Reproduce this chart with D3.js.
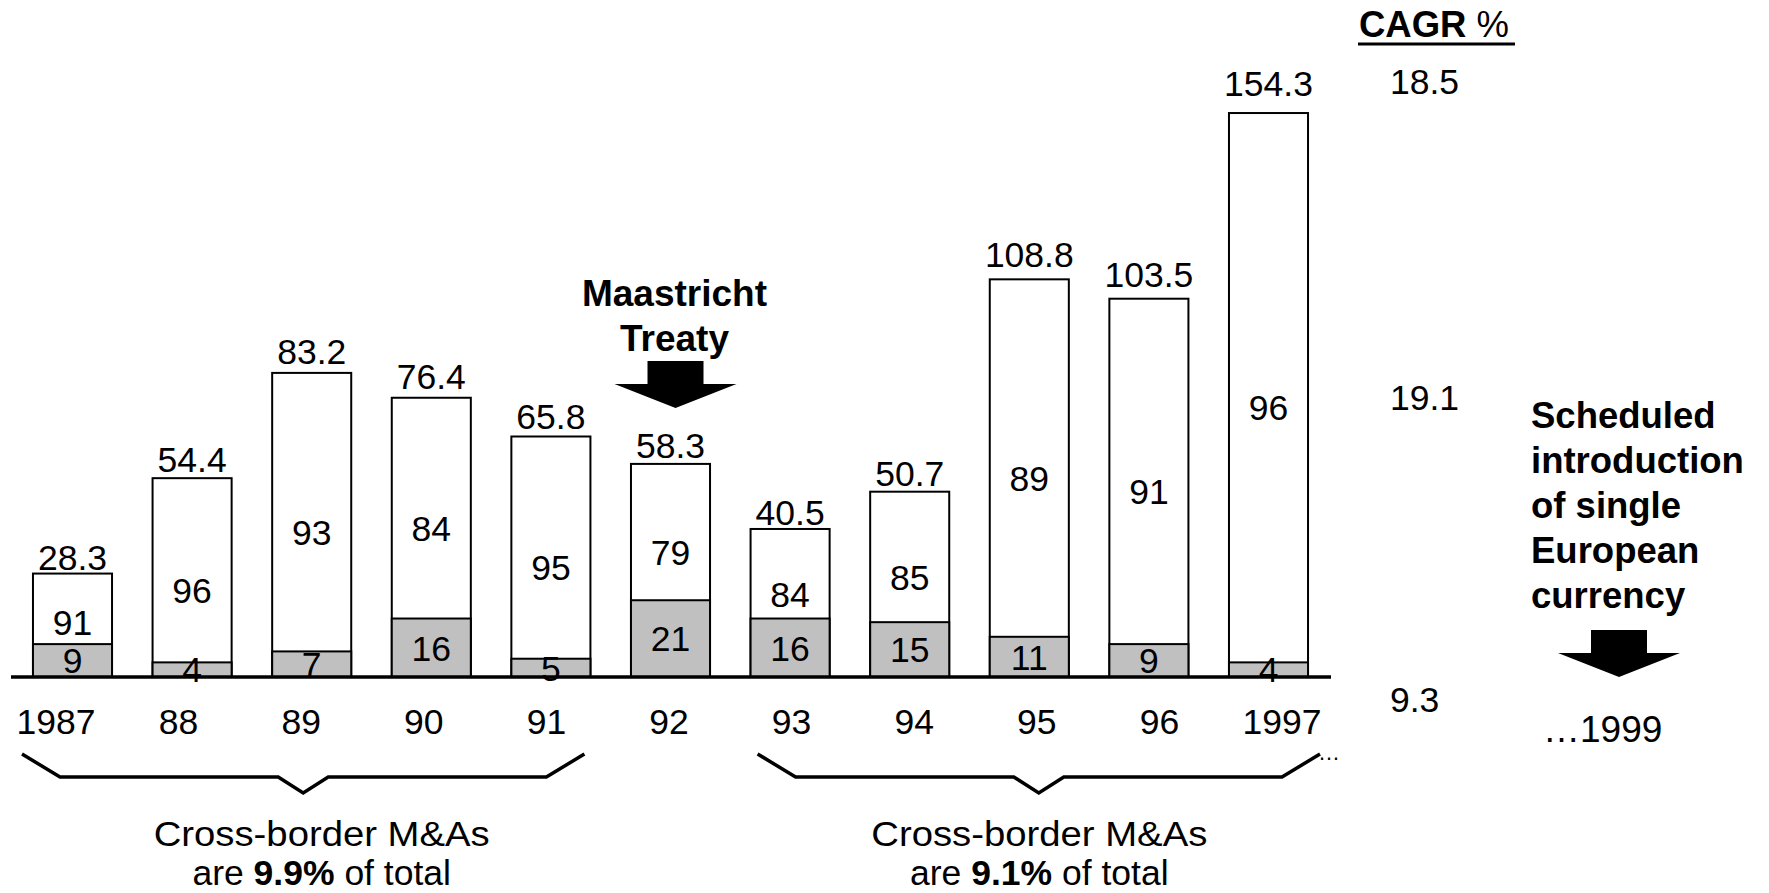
<!DOCTYPE html>
<html>
<head>
<meta charset="utf-8">
<script src="https://cdn.jsdelivr.net/npm/d3@7"></script>
<style>
  html, body { margin: 0; padding: 0; background: #fff; }
  svg { display: block; }
  text { font-family: "Liberation Sans", Arial, sans-serif; fill: #000; }
</style>
</head>
<body>
<svg id="chart" width="1769" height="893"></svg>
<script>
// ---- data ----
const years = ["1987", "88", "89", "90", "91", "92", "93", "94", "95", "96", "1997"];
const totals = [28.3, 54.4, 83.2, 76.4, 65.8, 58.3, 40.5, 50.7, 108.8, 103.5, 154.3];
const crossBorderShare = [9, 4, 7, 16, 5, 21, 16, 15, 11, 9, 4];
const domesticShare = [91, 96, 93, 84, 95, 79, 84, 85, 89, 91, 96];
const cagrHeader = "CAGR";
const cagrValues = ["18.5", "19.1", "9.3"];
const periodNotes = [
  { from: "1987", to: "91", centre: "89", line1: "Cross-border M&As", pre: "are ", bold: "9.9%", post: " of total" },
  { from: "93", to: "1997", centre: "95", line1: "Cross-border M&As", pre: "are ", bold: "9.1%", post: " of total" }
];
const eventNotes = {
  maastricht: ["Maastricht", "Treaty"],
  currency: ["Scheduled", "introduction", "of single", "European", "currency"],
  currencyYear: "\u20261999"
};

const rows = years.map((y, i) => ({
  year: y, total: totals[i], cross: crossBorderShare[i], dom: domesticShare[i]
}));

// ---- layout ----
const svg = d3.select("#chart");
const baseY = 677;
const x = d3.scaleBand().domain(years).range([12.7, 1328.3]).paddingInner(0.339).paddingOuter(0.1695);
const xLabel = d3.scalePoint().domain(years).range([56, 1282]);
const y = d3.scaleLinear().domain([0, 160]).range([baseY, baseY - 160 * 3.655]);
const cx = d => x(d) + x.bandwidth() / 2;

const numFont = 35.5;
const boldFont = 36.5;
const noteFont = 35.5;

// bars: white total
const g = svg.append("g");
g.selectAll("rect.total").data(rows).join("rect")
  .attr("class", "total")
  .attr("x", d => x(d.year))
  .attr("y", d => y(d.total))
  .attr("width", x.bandwidth())
  .attr("height", d => y(0) - y(d.total))
  .attr("fill", "#fff").attr("stroke", "#000").attr("stroke-width", 2);

// grey cross-border segment
g.selectAll("rect.cross").data(rows).join("rect")
  .attr("class", "cross")
  .attr("x", d => x(d.year))
  .attr("y", d => y(d.cross))
  .attr("width", x.bandwidth())
  .attr("height", d => y(0) - y(d.cross))
  .attr("fill", "#c0c0c0").attr("stroke", "#000").attr("stroke-width", 2);

// axis line
svg.append("line")
  .attr("x1", 11).attr("x2", 1331)
  .attr("y1", y(0)).attr("y2", y(0))
  .attr("stroke", "#000").attr("stroke-width", 3.5);

// total labels
g.selectAll("text.total").data(rows).join("text")
  .attr("class", "total")
  .attr("x", d => cx(d.year))
  .attr("y", d => y(d.total * 1.03))
  .attr("text-anchor", "middle")
  .attr("font-size", numFont)
  .text(d => d.total.toFixed(1));

// domestic share labels
g.selectAll("text.dom").data(rows).join("text")
  .attr("class", "dom")
  .attr("x", d => cx(d.year))
  .attr("y", d => {
    const top = y(d.total), bot = y(d.cross);
    return (top + bot) / 2 + Math.min(20, (bot - top) / 2 - 22);
  })
  .attr("dy", "0.36em")
  .attr("text-anchor", "middle")
  .attr("font-size", numFont)
  .text(d => d.dom);

// cross-border share labels
g.selectAll("text.cross").data(rows).join("text")
  .attr("class", "cross")
  .attr("x", d => cx(d.year))
  .attr("y", d => (y(0) + y(d.cross)) / 2)
  .attr("dy", "0.36em")
  .attr("text-anchor", "middle")
  .attr("font-size", numFont)
  .text(d => d.cross);

// year labels
svg.selectAll("text.year").data(years).join("text")
  .attr("class", "year")
  .attr("x", d => xLabel(d))
  .attr("y", 734)
  .attr("text-anchor", "middle")
  .attr("font-size", numFont)
  .text(d => d);

// braces & notes
periodNotes.forEach(p => {
  const x0 = xLabel(p.from) - 34;
  const x1 = xLabel(p.to) + 38;
  const mid = (x0 + x1) / 2;
  const path = d3.path();
  path.moveTo(x0, 754);
  path.lineTo(x0 + 38, 777);
  path.lineTo(mid - 25, 777);
  path.lineTo(mid, 793);
  path.lineTo(mid + 25, 777);
  path.lineTo(x1 - 38, 777);
  path.lineTo(x1, 754);
  svg.append("path").attr("d", path.toString())
    .attr("fill", "none").attr("stroke", "#000").attr("stroke-width", 3.5)
    .attr("stroke-linejoin", "miter");
  const tx = cx(p.centre) + 10;
  svg.append("text").attr("x", tx).attr("y", 846)
    .attr("text-anchor", "middle").attr("font-size", noteFont)
    .attr("textLength", 336).attr("lengthAdjust", "spacingAndGlyphs")
    .text(p.line1);
  const t2 = svg.append("text").attr("x", tx).attr("y", 885)
    .attr("text-anchor", "middle").attr("font-size", noteFont);
  t2.append("tspan").text(p.pre);
  t2.append("tspan").attr("font-weight", "bold").text(p.bold);
  t2.append("tspan").text(p.post);
});

// small ellipsis fragment after 1997 brace
svg.append("text").attr("x", 1318).attr("y", 760)
  .attr("font-size", 22).text("\u2026");

// CAGR column
const cagrT = svg.append("text").attr("x", 1359).attr("y", 37).attr("font-size", 36.5);
cagrT.append("tspan").attr("font-weight", "bold").text(cagrHeader);
cagrT.append("tspan").text(" %");
svg.append("line").attr("x1", 1358).attr("x2", 1515).attr("y1", 44).attr("y2", 44)
  .attr("stroke", "#000").attr("stroke-width", 3);
const cagrY = [94, 410, 712];
svg.selectAll("text.cagr").data(cagrValues).join("text")
  .attr("class", "cagr")
  .attr("x", 1390)
  .attr("y", (d, i) => cagrY[i])
  .attr("font-size", numFont)
  .text(d => d);

// Maastricht annotation
const mx = cx("92") + 4;
eventNotes.maastricht.forEach((t, i) => {
  svg.append("text").attr("x", mx).attr("y", 306 + i * 45)
    .attr("text-anchor", "middle").attr("font-size", 37)
    .attr("font-weight", "bold").text(t);
});
function downArrow(ax, top) {
  const p = d3.path();
  p.moveTo(ax - 28, top);
  p.lineTo(ax + 28, top);
  p.lineTo(ax + 28, top + 23);
  p.lineTo(ax + 61, top + 23);
  p.lineTo(ax, top + 47);
  p.lineTo(ax - 61, top + 23);
  p.lineTo(ax - 28, top + 23);
  p.closePath();
  svg.append("path").attr("d", p.toString()).attr("fill", "#000");
}
downArrow(mx + 1, 361);

// Single currency annotation
eventNotes.currency.forEach((t, i) => {
  svg.append("text").attr("x", 1531).attr("y", 428 + i * 45)
    .attr("font-size", boldFont).attr("font-weight", "bold").text(t);
});
downArrow(1619, 630);
svg.append("text").attr("x", 1543).attr("y", 742)
  .attr("font-size", 37).text(eventNotes.currencyYear);
</script>
</body>
</html>
